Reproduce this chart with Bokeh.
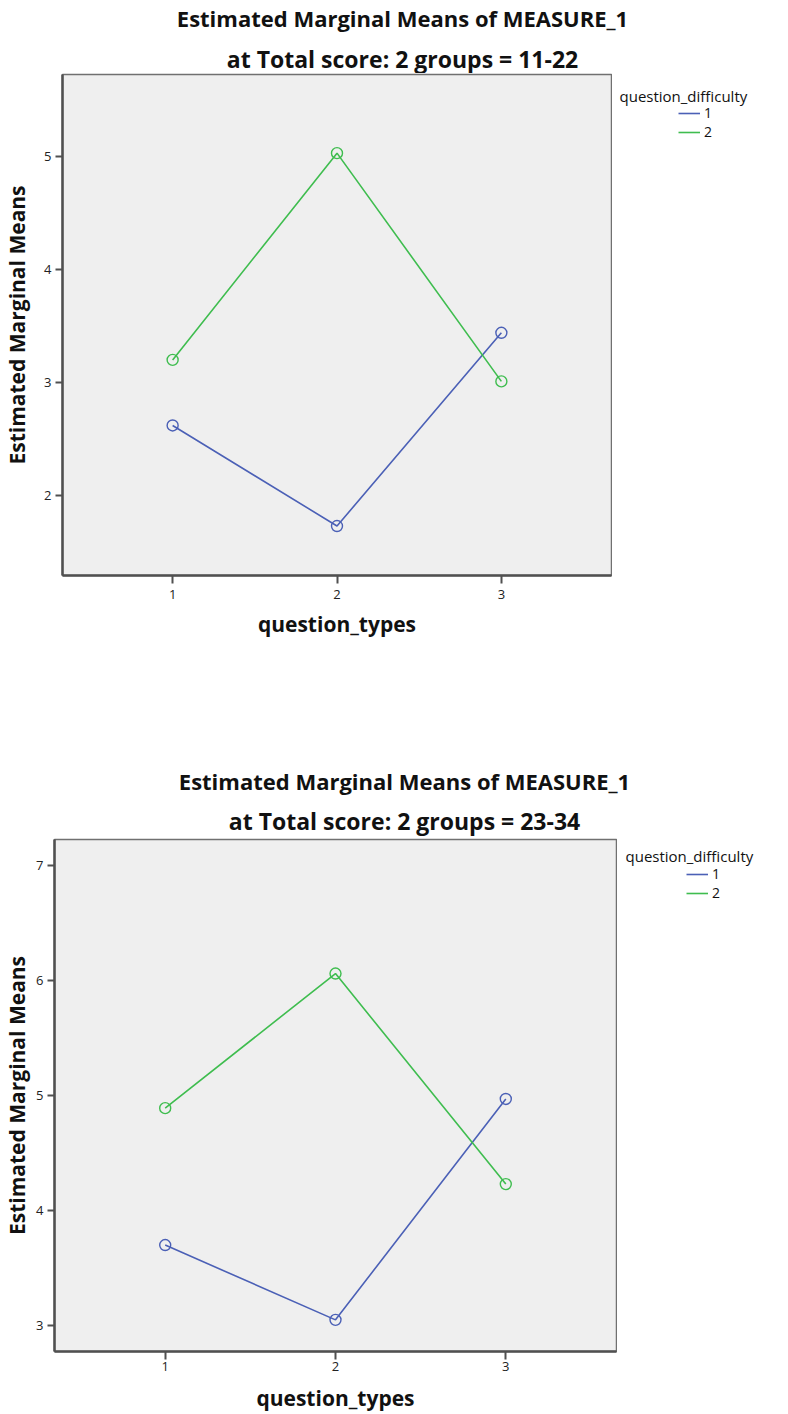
from bokeh.plotting import figure
from bokeh.models import Legend, LegendItem, FixedTicker, Range1d, Label
from bokeh.layouts import column, row
from bokeh.embed import file_html
from bokeh.resources import INLINE

# ---- data ----
question_types = [1, 2, 3]
x_ticks = [1, 2, 3]

top_title = "Estimated Marginal Means of MEASURE_1"
top_subtitle = "at Total score: 2 groups = 11-22"
top_diff1 = [2.62, 1.73, 3.44]
top_diff2 = [3.20, 5.03, 3.01]
top_y_ticks = [2, 3, 4, 5]

bot_title = "Estimated Marginal Means of MEASURE_1"
bot_subtitle = "at Total score: 2 groups = 23-34"
bot_diff1 = [3.70, 3.05, 4.97]
bot_diff2 = [4.89, 6.06, 4.23]
bot_y_ticks = [3, 4, 5, 6, 7]

legend_title = "question_difficulty"
legend_labels = ["1", "2"]
x_label = "question_types"
y_label = "Estimated Marginal Means"

BLUE = "#4b60b6"
GREEN = "#3fbd4f"
FONT = "Open Sans"
W = 788


def blank(width, height):
    p = figure(width=width, height=height, output_backend="svg",
               toolbar_location=None, x_range=Range1d(-1, 0),
               y_range=Range1d(-1, 0), x_axis_location=None,
               y_axis_location=None, min_border=0)
    p.outline_line_color = None
    p.background_fill_color = "white"
    p.border_fill_color = "white"
    p.grid.visible = False
    return p


def head(title, subtitle, height, cx, title_y, sub_y):
    p = blank(W, height)
    p.add_layout(Label(x=cx, y=title_y, x_units="screen", y_units="screen",
                       text=title, text_font=FONT, text_font_style="bold",
                       text_font_size="22px", text_align="center",
                       text_baseline="middle", text_color="#111111"))
    p.add_layout(Label(x=cx, y=sub_y, x_units="screen", y_units="screen",
                       text=subtitle, text_font=FONT, text_font_style="bold",
                       text_font_size="23px", text_align="center",
                       text_baseline="middle", text_color="#111111"))
    return p


def main(d1, d2, yticks, yrange, xrange, width, height, bl, bb, x_std,
         y_std):
    p = figure(width=width, height=height, output_backend="svg",
               toolbar_location=None, x_range=Range1d(*xrange),
               y_range=Range1d(*yrange), min_border_left=bl,
               min_border_right=1, min_border_top=1, min_border_bottom=bb)
    p.background_fill_color = "#efefef"
    p.border_fill_color = "white"
    p.outline_line_color = "#707070"
    p.outline_line_width = 1.5
    p.xgrid.visible = False
    p.ygrid.visible = False
    for ax in (p.xaxis[0], p.yaxis[0]):
        ax.axis_line_color = "#505050"
        ax.axis_line_width = 2.5
        ax.major_tick_line_color = "#505050"
        ax.major_tick_line_width = 2
        ax.major_tick_in = 0
        ax.minor_tick_line_color = None
        ax.major_label_text_font = FONT
        ax.major_label_text_font_size = "13px"
        ax.major_label_text_color = "#222222"
        ax.axis_label_text_font = FONT
        ax.axis_label_text_font_style = "bold"
        ax.axis_label_text_font_size = "21px"
        ax.axis_label_text_color = "#111111"
    p.xaxis.ticker = FixedTicker(ticks=x_ticks)
    p.yaxis.ticker = FixedTicker(ticks=yticks)
    p.xaxis.major_tick_out = 8
    p.yaxis.major_tick_out = 7
    p.xaxis.major_label_standoff = x_std[0]
    p.yaxis.major_label_standoff = 4
    p.xaxis.axis_label = x_label
    p.yaxis.axis_label = y_label
    p.xaxis.axis_label_standoff = x_std[1]
    p.yaxis.axis_label_standoff = y_std

    p.line(question_types, d1, line_color=BLUE, line_width=1.6)
    p.scatter(question_types, d1, marker="circle", size=11, fill_color=None,
              line_color=BLUE, line_width=1.4)
    p.line(question_types, d2, line_color=GREEN, line_width=1.6)
    p.scatter(question_types, d2, marker="circle", size=11, fill_color=None,
              line_color=GREEN, line_width=1.4)
    return p


def side(width, height, d1, d2, title_pos, leg_pos):
    # legend-only panel; its frame is aligned with the plot frame by the row.
    # The series are drawn outside this panel's visible range, so only their
    # legend entries show.
    p = blank(width, height)
    r1 = p.line(question_types, d1, line_color=BLUE, line_width=1.6)
    r2 = p.line(question_types, d2, line_color=GREEN, line_width=1.6)
    p.add_layout(Label(x=title_pos[0], y=title_pos[1], x_units="screen",
                       y_units="screen", text=legend_title, text_font=FONT,
                       text_font_size="15px", text_align="left",
                       text_baseline="middle", text_color="#111111"))
    leg = Legend(items=[LegendItem(label=legend_labels[0], renderers=[r1]),
                        LegendItem(label=legend_labels[1], renderers=[r2])],
                 location=leg_pos, padding=0, margin=0, spacing=0,
                 glyph_width=22, glyph_height=16, label_height=16,
                 label_standoff=4, label_text_font=FONT,
                 label_text_font_size="14px", label_text_color="#111111",
                 border_line_color=None, background_fill_alpha=0)
    p.add_layout(leg)
    return p


# top chart: header 0-73, plot 73-705 (frame 74-575)
h1 = head(top_title, top_subtitle, 73, 402, 56, 15)
m1 = main(top_diff1, top_diff2, top_y_ticks, (1.292, 5.726), (0.33, 3.67),
          612, 632, 62, 130, (6, 8), 10)
s1 = side(W - 612, 632, top_diff1, top_diff2, (7, 480), (66, 434))

# bottom chart: header 705-838, plot 838-1414 (frame 839-1353)
h2 = head(bot_title, bot_subtitle, 133, 404, 58, 18)
m2 = main(bot_diff1, bot_diff2, bot_y_ticks, (2.775, 7.225), (0.35, 3.65),
          617, 576, 54, 61, (2, 10), 2)
s2 = side(W - 617, 576, bot_diff1, bot_diff2, (8, 496), (69, 449))

layout = column(h1, row(m1, s1, spacing=0), h2, row(m2, s2, spacing=0),
                spacing=0)
open("out.html", "w").write(file_html(layout, INLINE))
